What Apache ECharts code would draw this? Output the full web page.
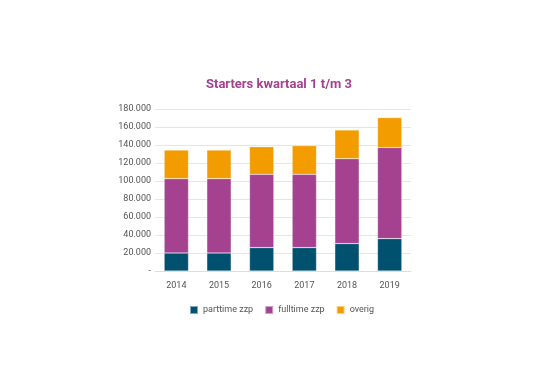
<!DOCTYPE html>
<html>
<head>
<meta charset="utf-8">
<script src="https://cdn.jsdelivr.net/npm/echarts@6/dist/echarts.min.js"></script>
<style>
html,body{margin:0;padding:0;background:#fff;}
#chart{width:534px;height:378px;}
</style>
</head>
<body>
<div id="chart"></div>
<script>
var years = ['2014', '2015', '2016', '2017', '2018', '2019'];
var parttimeZzp = [20000, 20000, 26000, 26000, 30500, 36000];
var fulltimeZzp = [82600, 82600, 81400, 81400, 94300, 101200];
var overig = [31800, 31800, 30700, 31900, 31900, 33300];

var chart = echarts.init(document.getElementById('chart'));

function fmtNL(v){
	if(v == 0){
		return '-';
	}
	return String(v).replace(/\B(?=(\d{3})+(?!\d))/g, '.');
}

var barStyle = {borderColor: 'rgba(255,255,255,0.5)', borderWidth: 0.5};

chart.setOption({
	animation: false,
	title: {
		text: 'Starters kwartaal 1 t/m 3',
		left: 201,
		top: 73,
		textStyle: {
			color: '#a4428f',
			fontSize: 13,
			fontWeight: 'bold',
			fontFamily: 'Roboto'
		}
	},
	legend: {
		bottom: 58,
		left: 184,
		itemWidth: 8,
		itemHeight: 8,
		itemGap: 11,
		icon: 'rect',
		textStyle: {color: '#555', fontSize: 9, fontFamily: 'Roboto'},
		data: ['parttime zzp', 'fulltime zzp', 'overig']
	},
	grid: {
		left: 155,
		right: 123,
		top: 109,
		bottom: 107
	},
	xAxis: {
		type: 'category',
		data: years,
		axisTick: {show: false},
		axisLine: {lineStyle: {color: '#ddd'}},
		axisLabel: {color: '#555', fontSize: 9, margin: 10, fontFamily: 'Roboto'}
	},
	yAxis: {
		type: 'value',
		min: 0,
		max: 180000,
		interval: 20000,
		axisLabel: {color: '#555', fontSize: 9, margin: 4, fontFamily: 'Roboto', formatter: fmtNL},
		splitLine: {lineStyle: {color: '#e6e6e6'}},
		axisLine: {show: false},
		axisTick: {show: false}
	},
	series: [
		{name: 'parttime zzp', type: 'bar', stack: 'a', barWidth: '57%', data: parttimeZzp, itemStyle: Object.assign({color: '#00516e'}, barStyle)},
		{name: 'fulltime zzp', type: 'bar', stack: 'a', data: fulltimeZzp, itemStyle: Object.assign({color: '#a4428f'}, barStyle)},
		{name: 'overig', type: 'bar', stack: 'a', data: overig, itemStyle: Object.assign({color: '#f39c00'}, barStyle)}
	]
});
</script>
</body>
</html>
